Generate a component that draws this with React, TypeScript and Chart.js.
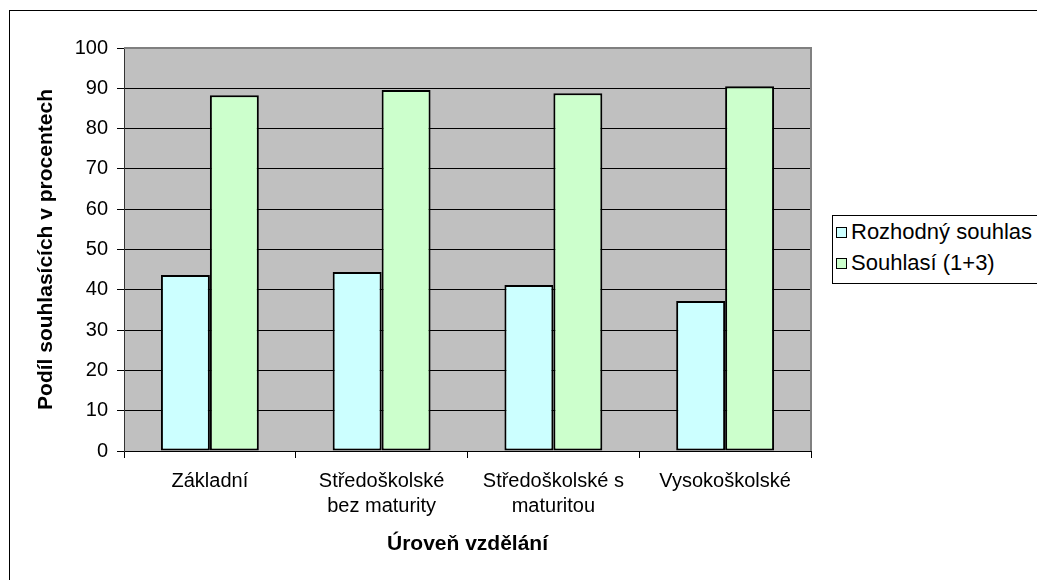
import React, { useEffect, useRef } from "react";
import { Chart, registerables } from "chart.js";

Chart.register(...registerables);

const categories: string[][] = [
  ["Základní"],
  ["Středoškolské", "bez maturity"],
  ["Středoškolské s", "maturitou"],
  ["Vysokoškolské"],
];
const seriesNames = ["Rozhodný souhlas", "Souhlasí (1+3)"];
const rozhodnySouhlas = [43.7, 44.4, 41.2, 37.2];
const souhlasi = [88.3, 89.6, 88.8, 90.5];
const yTicks = [0, 10, 20, 30, 40, 50, 60, 70, 80, 90, 100];
const yTitle = "Podíl souhlasících v procentech";
const xTitle = "Úroveň vzdělání";
const colors = ["#CCFFFF", "#CCFFCC"];

const FONT = "Arial, 'Liberation Sans', sans-serif";

const plotBg = {
  id: "plotBg",
  beforeDraw(chart: any) {
    const { ctx, chartArea } = chart;
    ctx.save();
    ctx.fillStyle = "#C0C0C0";
    ctx.fillRect(chartArea.left, chartArea.top, chartArea.right - chartArea.left, chartArea.bottom - chartArea.top);
    ctx.restore();
  },
  beforeDatasetsDraw(chart: any) {
    const { ctx, chartArea } = chart;
    ctx.save();
    ctx.strokeStyle = "#808080";
    ctx.lineWidth = 2;
    ctx.beginPath();
    ctx.moveTo(chartArea.left, chartArea.top);
    ctx.lineTo(chartArea.right, chartArea.top);
    ctx.lineTo(chartArea.right, chartArea.bottom);
    ctx.stroke();
    ctx.restore();
  },
};

export default function App() {
  const ref = useRef<HTMLCanvasElement>(null);
  useEffect(() => {
    if (!ref.current) return;
    const chart = new Chart(ref.current, {
      type: "bar",
      data: {
        labels: categories,
        datasets: [
          {
            label: seriesNames[0],
            data: rozhodnySouhlas,
            backgroundColor: colors[0],
            borderColor: "#000",
            borderWidth: 2,
            borderSkipped: false,
          },
          {
            label: seriesNames[1],
            data: souhlasi,
            backgroundColor: colors[1],
            borderColor: "#000",
            borderWidth: 2,
            borderSkipped: false,
          },
        ],
      },
      options: {
        animation: false,
        responsive: false,
        maintainAspectRatio: false,
        devicePixelRatio: 1,
        categoryPercentage: 0.57,
        barPercentage: 1.0,
        layout: { padding: { left: 0, top: 48, right: 226, bottom: 0 } },
        plugins: { legend: { display: false }, tooltip: { enabled: false } },
        scales: {
          x: {
            offset: true,
            grid: {
              offset: true,
              drawOnChartArea: false,
              drawTicks: true,
              tickLength: 7,
              color: "#000",
            },
            border: { color: "#000", width: 1 },
            ticks: {
              color: "#000",
              padding: 11,
              maxRotation: 0,
              autoSkip: false,
              font: { family: FONT, size: 20, lineHeight: 1.25 },
            },
            title: {
              display: true,
              text: xTitle,
              color: "#000",
              font: { family: FONT, size: 21, weight: "bold", lineHeight: 1.2 },
              padding: { top: 0, bottom: 23 },
            },
            afterFit(scale: any) {
              scale.height = 129;
            },
          },
          y: {
            min: 0,
            max: 100,
            afterBuildTicks(scale: any) {
              scale.ticks = yTicks.map((v) => ({ value: v }));
            },
            grid: {
              color: (c: any) => (c.tick && c.tick.value === 100 ? "rgba(0,0,0,0)" : "#000"),
              tickColor: "#000",
              drawTicks: true,
              tickLength: 7,
            },
            border: { color: "#333", width: 1 },
            ticks: {
              color: "#000",
              padding: 9,
              font: { family: FONT, size: 20 },
            },
            title: {
              display: true,
              text: yTitle,
              color: "#000",
              font: { family: FONT, size: 21, weight: "bold", lineHeight: 1.2 },
              padding: { top: 34, bottom: 0 },
            },
            afterFit(scale: any) {
              scale.width = 124;
            },
          },
        },
      },
      plugins: [plotBg],
    } as any);
    return () => chart.destroy();
  }, []);

  const legendItem = (i: number, top: number) => (
    <div style={{ position: "absolute", left: 0, top, height: 26, display: "flex", alignItems: "center" }}>
      <div style={{ width: 9, height: 9, border: "1px solid #000", background: colors[i], marginLeft: 3, marginRight: 4 }} />
      <span style={{ fontFamily: FONT, fontSize: 22, color: "#000", whiteSpace: "nowrap" }}>{seriesNames[i]}</span>
    </div>
  );

  return (
    <div>
      <div
        style={{
          position: "fixed",
          left: 9,
          top: 10,
          width: 2000,
          height: 2000,
          borderTop: "1px solid #000",
          borderLeft: "1px solid #000",
          zIndex: 0,
        }}
      />
      <canvas
        ref={ref}
        width={1037}
        height={580}
        style={{ position: "fixed", left: 0, top: 0, width: 1037, height: 580, zIndex: 1 }}
      />
      <div
        style={{
          position: "fixed",
          left: 832,
          top: 215,
          width: 400,
          height: 67,
          border: "1px solid #000",
          background: "#fff",
          zIndex: 2,
        }}
      >
        {legendItem(0, 3)}
        {legendItem(1, 34)}
      </div>
    </div>
  );
}
